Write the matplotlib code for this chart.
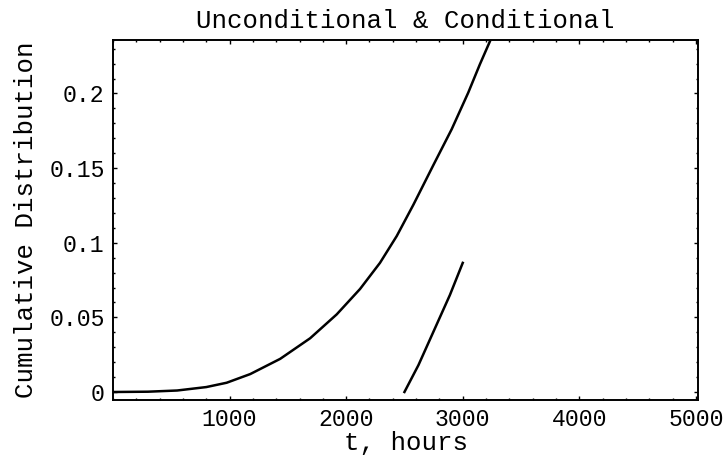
import matplotlib
matplotlib.use("Agg")
import matplotlib.pyplot as plt
from matplotlib.ticker import MultipleLocator, FixedLocator, FixedFormatter

# Unconditional cumulative distribution
t_uncond = [0, 300, 550, 800, 975, 1177, 1434, 1691, 1919, 2119, 2290,
            2434, 2577, 2748, 2905, 3047, 3147, 3227, 3300]
F_uncond = [0.0, 0.0002, 0.001, 0.0033, 0.0062, 0.012, 0.0222, 0.036, 0.052, 0.069, 0.0865,
            0.1045, 0.1255, 0.152, 0.176, 0.2005, 0.2195, 0.2338, 0.247]

# Conditional cumulative distribution (given survival to 2500 h)
t_cond = [2500, 2620, 2755, 2890, 3000]
F_cond = [0.0, 0.018, 0.0415, 0.065, 0.0865]

x_ticks = [1000, 2000, 3000, 4000, 5000]
x_tick_labels = ["1000", "2000", "3000", "4000", "5000"]
y_ticks = [0, 0.05, 0.1, 0.15, 0.2]
y_tick_labels = ["0", "0.05", "0.1", "0.15", "0.2"]

title = "Unconditional & Conditional"
xlabel = "t, hours"
ylabel = "Cumulative Distribution"

FONT = "Liberation Mono"

fig = plt.figure(figsize=(7.28, 4.63), dpi=100)
ax = fig.add_axes([113 / 728, 1 - 400 / 463, (698 - 113) / 728, (400 - 40) / 463])

ax.plot(t_uncond, F_uncond, color="black", lw=1.8, solid_joinstyle="round")
ax.plot(t_cond, F_cond, color="black", lw=1.8, solid_joinstyle="round")

ax.set_xlim(0, 5018)
ax.set_ylim(-0.00536, 0.2358)

ax.xaxis.set_major_locator(FixedLocator(x_ticks))
ax.xaxis.set_major_formatter(FixedFormatter(x_tick_labels))
ax.yaxis.set_major_locator(FixedLocator(y_ticks))
ax.yaxis.set_major_formatter(FixedFormatter(y_tick_labels))
ax.xaxis.set_minor_locator(MultipleLocator(200))
ax.yaxis.set_minor_locator(MultipleLocator(0.01))

ax.tick_params(which="both", direction="in", top=True, right=True, width=1.0,
               labelsize=16.7, pad=6)
ax.tick_params(which="major", length=3.2)
ax.tick_params(which="minor", length=1.6)
for lbl in ax.get_xticklabels() + ax.get_yticklabels():
    lbl.set_family(FONT)

for sp in ax.spines.values():
    sp.set_linewidth(1.4)

ax.set_title(title, family=FONT, fontsize=18.5, pad=9)
ax.set_xlabel(xlabel, family=FONT, fontsize=18.5, labelpad=0)
ax.set_ylabel(ylabel, family=FONT, fontsize=18.5, labelpad=8)

fig.savefig("out.png", dpi=100, facecolor="white")
